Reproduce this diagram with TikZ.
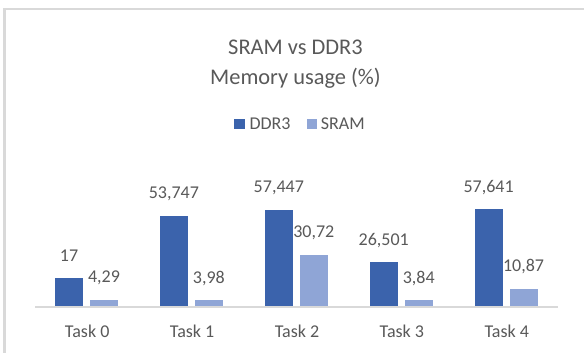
\documentclass[tikz,border=0pt]{standalone}
\usepackage{fontspec}
\setmainfont{Carlito}
\definecolor{ddrblue}{RGB}{59,99,172}
\definecolor{srampale}{RGB}{143,165,214}
\definecolor{txtgray}{RGB}{89,89,89}
\definecolor{linegray}{RGB}{217,217,217}
\begin{document}
\begin{tikzpicture}[x=1pt,y=-1pt,
  ddrbar/.style={fill=ddrblue},
  srambar/.style={fill=srampale},
  vlabel/.style={text=txtgray,inner sep=0pt,font=\fontsize{18}{21}\selectfont},
  catlabel/.style={text=txtgray,inner sep=0pt,font=\fontsize{18}{21}\selectfont},
  titlelabel/.style={text=txtgray,inner sep=0pt,font=\fontsize{22.4}{26}\selectfont},
  leglabel/.style={text=txtgray,inner sep=0pt,anchor=west,font=\fontsize{18}{21}\selectfont},
  axisline/.style={draw=linegray,line width=2pt},
  frameline/.style={draw=linegray,line width=2.5pt}
]
\useasboundingbox (0,0) rectangle (584,353);
\fill[white] (0,0) rectangle (584,353);
% frame
\draw[frameline] (4.3,353) -- (4.3,9) -- (584,9);
% title
\node[titlelabel] (title1) at (295.5,47.7) {SRAM vs DDR3};
\node[titlelabel] (title2) at (295.5,78) {Memory usage (\%)};
% legend
\fill[ddrbar] (234.3,119) rectangle (245,129.3);
\node[leglabel] (legddr) at (249.3,124.2) {DDR3};
\fill[srambar] (306.7,119) rectangle (317.3,129.3);
\node[leglabel] (legsram) at (320.7,124.2) {SRAM};
% bars
\foreach \i/\d/\s/\dl/\sl in {0/17/4.29/17/{4,29},1/53.747/3.98/{53,747}/{3,98},2/57.447/30.72/{57,447}/{30,72},3/26.501/3.84/{26,501}/{3,84},4/57.641/10.87/{57,641}/{10,87}}{
  \pgfmathsetmacro{\c}{86.5+104.9*\i}
  \pgfmathsetmacro{\dt}{307-1.695*\d}
  \pgfmathsetmacro{\st}{307-1.695*\s}
  \fill[ddrbar] (\c-31.5,\dt) rectangle (\c-3.5,307);
  \fill[srambar] (\c+3.5,\st) rectangle (\c+31.5,307);
  \node[vlabel] (dlab\i) at (\c-17.5,\dt-22) {\dl};
  \node[vlabel] (slab\i) at (\c+17.5,\st-22) {\sl};
  \node[catlabel] (cat\i) at (\c+0.7,331.7) {Task \i};
}
% axis
\draw[axisline] (35,307) -- (558,307);
\end{tikzpicture}
\end{document}
